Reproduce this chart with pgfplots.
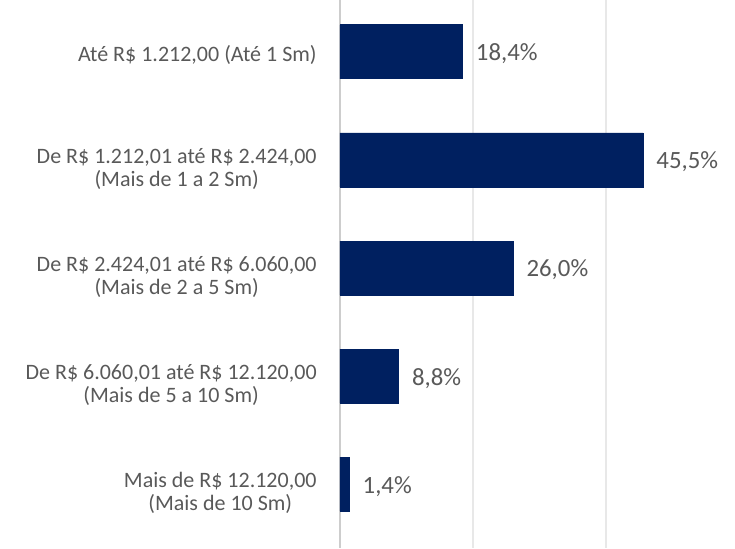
\documentclass[border=0pt]{standalone}
\usepackage{fontspec}
\setmainfont{Carlito}
\usepackage{pgfplots}
\pgfplotsset{compat=1.18}
\definecolor{barblue}{RGB}{0,32,96}
\definecolor{txt}{RGB}{89,89,89}
\definecolor{gridc}{RGB}{232,232,232}
\definecolor{axc}{RGB}{205,205,205}
\newcommand{\tl}{\rule{0pt}{13.5pt}}
\begin{document}
\begin{tikzpicture}
\begin{axis}[name=ax, scale only axis, width=197.5pt, height=274pt,
 xbar, bar width=27pt, xmin=0, xmax=59.3, ymin=-0.48, ymax=4.59, y dir=reverse,
 axis line style={draw=none}, major tick length=0pt,
 xtick={20,40}, xticklabels={}, xmajorgrids, grid style={gridc, line width=1pt},
 extra x ticks={0}, extra x tick labels={}, extra x tick style={grid style={axc, line width=1.2pt}},
 ytick={0,1,2,3,4},
 yticklabels={{Até R\$ 1.212,00 (Até 1 Sm)},
   {\tl De R\$ 1.212,01 até R\$ 2.424,00\\(Mais de 1 a 2 Sm)},
   {\tl De R\$ 2.424,01 até R\$ 6.060,00\\(Mais de 2 a 5 Sm)},
   {\tl De R\$ 6.060,01 até R\$ 12.120,00\\(Mais de 5 a 10 Sm)},
   {\tl Mais de R\$ 12.120,00\\(Mais de 10 Sm)}},
 yticklabel style={align=center, font=\fontsize{11}{11.7}\selectfont, text=txt, inner sep=0pt, xshift=-11.5pt, yshift=-1.5pt},
 /pgf/number format/assume math mode=true,
 nodes near coords={\pgfmathprintnumber[fixed, fixed zerofill, precision=1, use comma]{\pgfplotspointmeta}\%},
 nodes near coords style={font=\fontsize{12.4}{13}\selectfont, text=txt, anchor=west, inner sep=0pt, xshift=6.5pt, yshift=-1pt},
]
\addplot[fill=barblue, draw=barblue] coordinates {(18.4,0) (45.5,1) (26.0,2) (8.8,3) (1.4,4)};
\end{axis}
\pgfresetboundingbox
\path[use as bounding box] (-170pt,0) rectangle (197.5pt,274pt);
\end{tikzpicture}
\end{document}
